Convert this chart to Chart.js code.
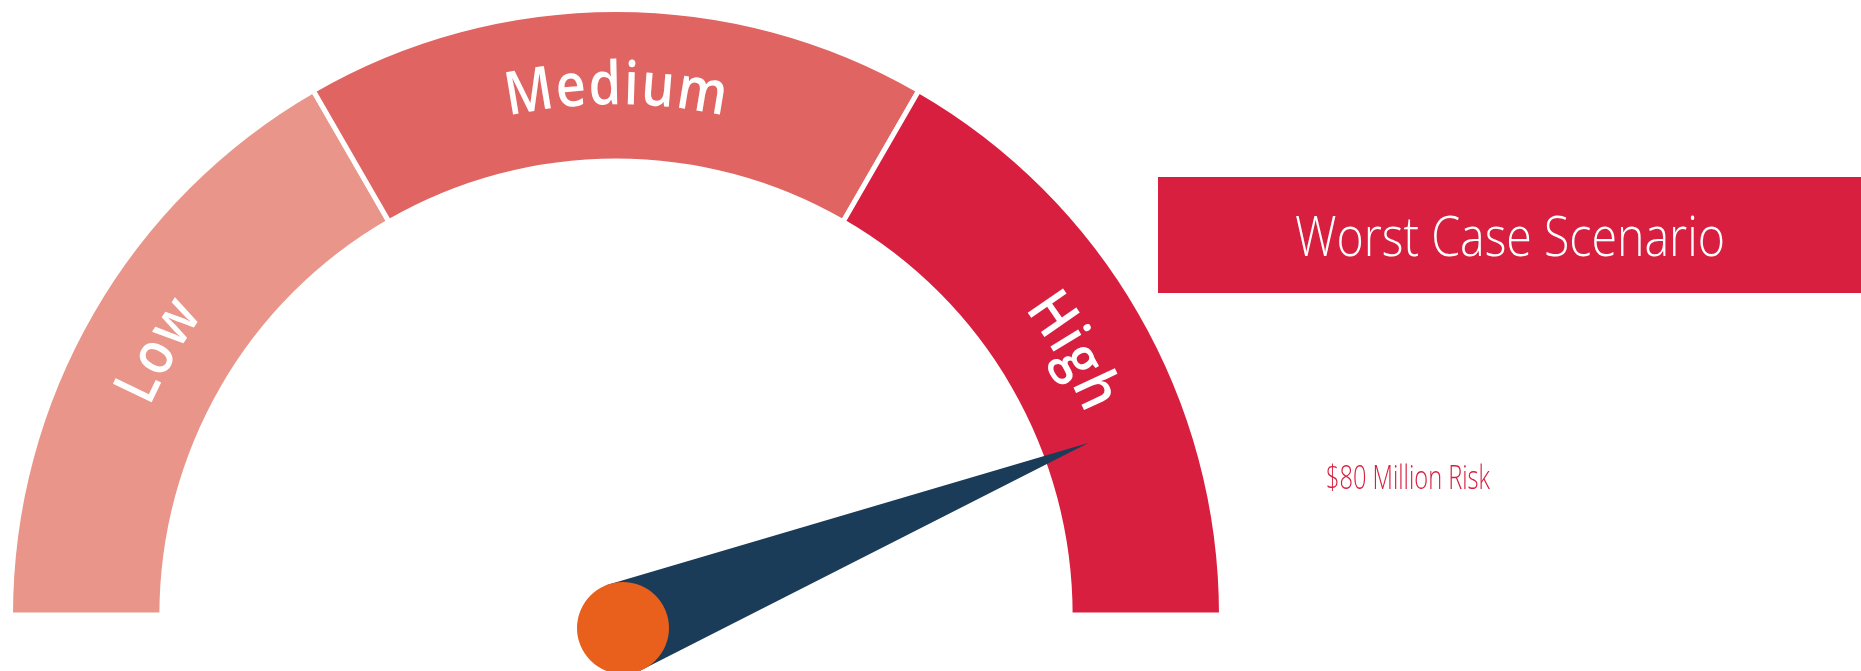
<!DOCTYPE html>
<html>
<head>
<meta charset="utf-8">
<script src="https://cdn.jsdelivr.net/npm/chart.js@4.4.0/dist/chart.umd.min.js"></script>
<style>
  html, body { margin: 0; padding: 0; background: #fff; }
  canvas { display: block; }
</style>
</head>
<body>
<canvas id="myChart" width="1861" height="671"></canvas>
<script>
// gauge data
var segmentLabels = ['Low', 'Medium', 'High'];
var segmentValues = [30, 30, 30];
var segmentColors = ['#E9958A', '#E06462', '#D91F3F'];
var needleValue = 80;
var scenarioTitle = 'Worst Case Scenario';
var riskLabel = '$80 Million Risk';

var gaugeMax = segmentValues.reduce(function (a, b) { return a + b; }, 0);

// draw text squeezed horizontally so it fits a given width (fonts here are wider than the original)
function fitText(ctx, text, x, y, font, width) {
    ctx.font = font;
    var w = ctx.measureText(text).width;
    ctx.save();
    ctx.translate(x, y);
    ctx.scale(width / w, 1);
    ctx.fillText(text, 0, 0);
    ctx.restore();
}

var gaugePlugin = {
    id: 'gauge',
    afterDatasetsDraw: function (chart) {
        var ctx = chart.ctx;
        var arcs = chart.getDatasetMeta(0).data;

        // curved labels along each segment
        ctx.save();
        ctx.fillStyle = '#fff';
        ctx.font = '600 60px "Open Sans"';
        ctx.textAlign = 'center';
        ctx.textBaseline = 'middle';
        var sx = 0.87;
        var spacing = 3;
        arcs.forEach(function (arc, i) {
            var p = arc.getProps(['x', 'y', 'startAngle', 'endAngle', 'innerRadius', 'outerRadius'], true);
            var r = (p.innerRadius + p.outerRadius) / 2;
            var mid = (p.startAngle + p.endAngle) / 2;
            var text = segmentLabels[i];
            var widths = text.split('').map(function (c) { return ctx.measureText(c).width * sx; });
            var total = widths.reduce(function (a, b) { return a + b; }, 0) + spacing * (text.length - 1);
            var a = mid - total / 2 / r;
            for (var k = 0; k < text.length; k++) {
                var ang = a + (widths[k] / 2) / r;
                ctx.save();
                ctx.translate(p.x + r * Math.cos(ang), p.y + r * Math.sin(ang));
                ctx.rotate(ang + Math.PI / 2);
                ctx.scale(sx, 1);
                ctx.fillText(text[k], 0, 2);
                ctx.restore();
                a += (widths[k] + spacing) / r;
            }
        });
        ctx.restore();

        // needle
        var p0 = arcs[0].getProps(['x', 'y', 'outerRadius'], true);
        var angle = Math.PI + Math.PI * needleValue / gaugeMax;
        var len = p0.outerRadius * 0.83;
        var tipX = p0.x + len * Math.cos(angle);
        var tipY = p0.y + len * Math.sin(angle);
        var px = p0.x + 7, py = p0.y + 13, hub = 46;
        var dir = Math.atan2(tipY - py, tipX - px);
        ctx.save();
        ctx.fillStyle = '#1B3C59';
        ctx.beginPath();
        ctx.moveTo(tipX, tipY);
        ctx.lineTo(px + hub * Math.cos(dir - Math.PI / 2), py + hub * Math.sin(dir - Math.PI / 2));
        ctx.lineTo(px + hub * Math.cos(dir + Math.PI / 2), py + hub * Math.sin(dir + Math.PI / 2));
        ctx.closePath();
        ctx.fill();
        ctx.fillStyle = '#E8601C';
        ctx.beginPath();
        ctx.arc(px, py, hub, 0, Math.PI * 2);
        ctx.fill();
        ctx.restore();
    },
    afterDraw: function (chart) {
        var ctx = chart.ctx;
        ctx.save();
        // scenario banner
        ctx.fillStyle = '#D91F3F';
        ctx.fillRect(1158, 177, chart.width - 1158, 116);
        ctx.fillStyle = '#fff';
        ctx.textAlign = 'left';
        ctx.textBaseline = 'alphabetic';
        fitText(ctx, scenarioTitle, 1295, 256, '300 56px "Open Sans"', 430);

        ctx.fillStyle = '#D91F3F';
        fitText(ctx, riskLabel, 1326, 489, '300 33px "Open Sans"', 164);
        ctx.restore();
    }
};

var ctx = document.getElementById('myChart').getContext('2d');
var chart = new Chart(ctx, {
    type: 'doughnut',
    data: {
        labels: segmentLabels,
        datasets: [{
            data: segmentValues,
            backgroundColor: segmentColors,
            borderColor: '#fff',
            borderWidth: 5
        }]
    },
    options: {
        responsive: false,
        animation: false,
        rotation: -90,
        circumference: 180,
        cutout: '75%',
        layout: { padding: { left: 8, right: 637, top: 7, bottom: 53.5 } },
        plugins: {
            legend: { display: false },
            tooltip: { enabled: false }
        }
    },
    plugins: [gaugePlugin]
});
</script>
</body>
</html>
